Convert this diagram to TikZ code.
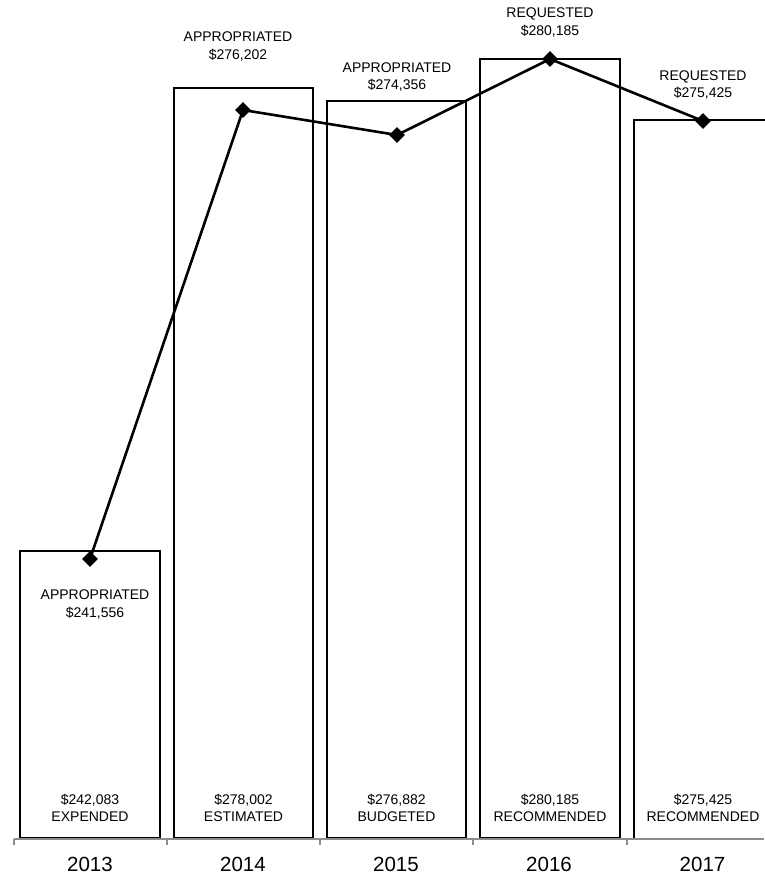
\documentclass[tikz,border=0pt]{standalone}
\usepackage{fontspec}
\setmainfont{Liberation Sans}
\usetikzlibrary{shapes.geometric}
\begin{document}
\begin{tikzpicture}[x=1pt,y=-1pt,
  bar/.style={draw=black,line width=2pt},
  mk/.style={diamond,fill=black,inner sep=0pt,minimum size=16pt},
  lbl/.style={font=\fontsize{14}{17.5}\selectfont,align=center,inner sep=0pt},
  yr/.style={font=\fontsize{20.5}{24}\selectfont,inner sep=0pt},
  axisline/.style={draw=gray!90,line width=1.6pt},
  trend/.style={draw=black,line width=2.6pt}]
\useasboundingbox (0,0) rectangle (764,878);
% bars
\draw[bar] (20,838) rectangle (160,551);
\draw[bar] (174,838) rectangle (313,88);
\draw[bar] (327,838) rectangle (466,101);
\draw[bar] (480,838) rectangle (620,59);
\draw[bar] (634,838) |- (766,120);
% axis
\draw[axisline] (14,839) -- (764,839);
\foreach \x in {14,167,320,473,627} \draw[axisline] (\x,839) -- (\x,845);
% markers
\node[mk] (m13) at (90,559) {};
\node[mk] (m14) at (243,110) {};
\node[mk] (m15) at (397,135) {};
\node[mk] (m16) at (550,59) {};
\node[mk] (m17) at (703,121) {};
\draw[trend] (m13.center) -- (m14.center) -- (m15.center) -- (m16.center) -- (m17.center);
% top labels
\node[lbl] (t14) at (238,46.5) {APPROPRIATED\\\$276,202};
\node[lbl] (t15) at (397,77) {APPROPRIATED\\\$274,356};
\node[lbl] (t16) at (550,22.5) {REQUESTED\\\$280,185};
\node[lbl] (t17) at (703,85) {REQUESTED\\\$275,425};
\node[lbl] (t13) at (95,604.5) {APPROPRIATED\\\$241,556};
% bottom labels
\node[lbl] (b13) at (90,808) {\$242,083\\EXPENDED};
\node[lbl] (b14) at (243.5,808) {\$278,002\\ESTIMATED};
\node[lbl] (b15) at (396.5,808) {\$276,882\\BUDGETED};
\node[lbl] (b16) at (550,808) {\$280,185\\RECOMMENDED};
\node[lbl] (b17) at (703,808) {\$275,425\\RECOMMENDED};
% years
\node[yr] (y13) at (90,864) {2013};
\node[yr] (y14) at (243,864) {2014};
\node[yr] (y15) at (396,864) {2015};
\node[yr] (y16) at (549,864) {2016};
\node[yr] (y17) at (702.5,864) {2017};
\end{tikzpicture}
\end{document}
